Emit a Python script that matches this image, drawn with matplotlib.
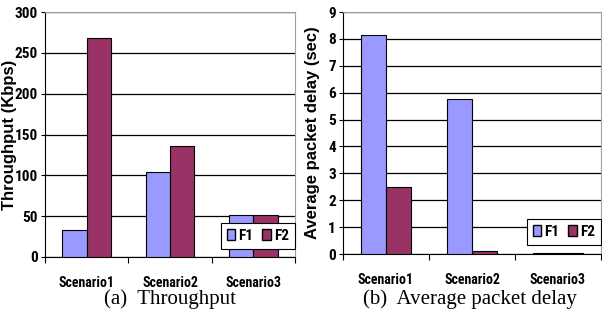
import matplotlib.pyplot as plt
import numpy as np
from matplotlib.patches import Patch
from matplotlib import font_manager

scenarios = ['Scenario1', 'Scenario2', 'Scenario3']
thr_f1 = [33, 104, 51]
thr_f2 = [268, 136, 51]
delay_f1 = [8.15, 5.75, 0.03]
delay_f2 = [2.48, 0.12, 0.02]

c1 = '#9999ff'
c2 = '#993366'
W, H = 602, 333

# narrow sans for the small labels, if present
have = {f.name for f in font_manager.fontManager.ttflist}
narrow = 'Liberation Sans'
for n in ['Liberation Sans Narrow', 'Roboto Condensed', 'Arial Narrow']:
    if n in have:
        narrow = n
        break
narrow_size = 10 if narrow != 'Liberation Sans' else 7.5

fig = plt.figure(figsize=(W / 100, H / 100), dpi=100)
plt.rcParams['font.family'] = ['Liberation Sans', 'DejaVu Sans']


def draw(rect, f1, f2, ymax, ystep, ylabel, label_x, leg_bottom):
    l, t, r, b = rect
    ax = fig.add_axes([l / W, 1 - b / H, (r - l) / W, (b - t) / H])
    x = np.arange(len(scenarios))
    w = 0.29
    ax.bar(x - w / 2, f1, w, color=c1, edgecolor='black', linewidth=0.8, zorder=3)
    ax.bar(x + w / 2, f2, w, color=c2, edgecolor='black', linewidth=0.8, zorder=3)
    ax.set_xlim(-0.5, 2.5)
    ax.set_ylim(0, ymax)
    ax.set_yticks(np.arange(0, ymax + ystep / 2, ystep))
    ax.yaxis.grid(True, color='black', linewidth=0.9, zorder=0)
    ax.set_xticks(x)
    ax.set_xticklabels(scenarios, fontweight='bold', fontsize=narrow_size, family=narrow)
    ax.set_xticks([-0.5, 0.5, 1.5, 2.5], minor=True)
    ax.tick_params(axis='x', which='major', length=0, pad=14)
    ax.tick_params(axis='x', which='minor', length=4, width=0.8)
    ax.tick_params(axis='y', length=3, width=0.8, pad=2)
    for lab in ax.get_yticklabels():
        lab.set_fontweight('bold')
        lab.set_family(narrow)
        lab.set_fontsize(narrow_size + 1)
    ax.set_ylabel(ylabel, fontweight='bold', fontsize=12)
    ax.yaxis.set_label_coords((label_x - l) / (r - l), 0.5)
    for s in ['top', 'right']:
        ax.spines[s].set_color('#a0a0a0')
        ax.spines[s].set_linewidth(0.8)
    handles = [Patch(facecolor=c1, edgecolor='black', label='F1'),
               Patch(facecolor=c2, edgecolor='black', label='F2')]
    leg = ax.legend(handles=handles, ncol=2, loc='lower right',
                    bbox_to_anchor=(1.0, (b - leg_bottom) / (b - t)), borderaxespad=0,
                    fancybox=False, framealpha=1,
                    edgecolor='black', handlelength=0.55, handleheight=0.75,
                    handletextpad=0.2, columnspacing=0.6, borderpad=0.4,
                    prop={'weight': 'bold', 'size': narrow_size + 1, 'family': narrow})
    leg.get_frame().set_linewidth(0.8)
    leg.set_zorder(5)
    return ax


draw((45, 12, 295, 257), thr_f1, thr_f2, 300, 50, 'Throughput (Kbps)', 17, 249)
draw((343, 12, 601, 254), delay_f1, delay_f2, 9, 1, 'Average packet delay (sec)', 320, 245)

fig.text(170 / W, 1 - 299 / H, '(a)  Throughput', ha='center', va='center',
         family='Liberation Serif', fontsize=15)
fig.text(470 / W, 1 - 299 / H, '(b)  Average packet delay', ha='center', va='center',
         family='Liberation Serif', fontsize=15)

fig.savefig('out.png', dpi=100)
